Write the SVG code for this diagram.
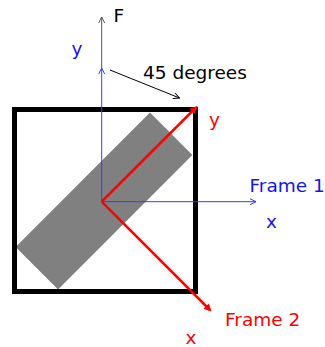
<svg xmlns="http://www.w3.org/2000/svg" width="325" height="347" viewBox="0 0 325 347">
<style>
text{font-family:"DejaVu Sans",sans-serif;font-size:18.5px}
.b{fill:#1414f0}.r{fill:#f00}.k{fill:#000}
</style>
<defs>
<marker id="openb" viewBox="0 0 8 8" refX="7" refY="4" markerWidth="8" markerHeight="8" markerUnits="userSpaceOnUse" orient="auto"><path d="M1,1 L7,4 L1,7" fill="none" stroke="#3a3aff" stroke-width="1"/></marker>
<marker id="openg" viewBox="0 0 8 8" refX="7" refY="4" markerWidth="8" markerHeight="8" markerUnits="userSpaceOnUse" orient="auto"><path d="M1,1 L7,4 L1,7" fill="none" stroke="#555" stroke-width="1"/></marker>
<marker id="openk" viewBox="0 0 8 8" refX="7" refY="4" markerWidth="8" markerHeight="8" markerUnits="userSpaceOnUse" orient="auto"><path d="M1,1 L7,4 L1,7" fill="none" stroke="#000" stroke-width="1"/></marker>
<marker id="red" viewBox="0 0 8 8" refX="6" refY="4" markerWidth="8" markerHeight="8" markerUnits="userSpaceOnUse" orient="auto"><path d="M1,1 L7,4 L1,7 Z" fill="#f00" stroke="#f00" stroke-width="1"/></marker>
</defs>
<g id="body">
<rect x="9" y="171" width="190" height="60" transform="rotate(-45 104 201)" fill="#808080"/>
</g>
<g id="box">
<rect x="14.5" y="109.5" width="181" height="182" fill="none" stroke="#000" stroke-width="5"/>
</g>
<g id="connectors">
<line x1="101.7" y1="68" x2="101.7" y2="17" stroke="#555" stroke-width="1" marker-end="url(#openg)"/>
<line x1="101.7" y1="201.7" x2="101.7" y2="68" stroke="#3a3aff" stroke-width="1" marker-end="url(#openb)"/>
<line x1="101.7" y1="201.7" x2="256" y2="201.7" stroke="#3a3aff" stroke-width="1" marker-end="url(#openb)"/>
<line x1="110" y1="70" x2="179.5" y2="98" stroke="#000" stroke-width="1" marker-end="url(#openk)"/>
<line x1="101.7" y1="201.7" x2="196" y2="107.5" stroke="#f00" stroke-width="2.5" marker-end="url(#red)"/>
<line x1="101.7" y1="201.7" x2="210" y2="310" stroke="#f00" stroke-width="2.5" marker-end="url(#red)"/>
</g>
<g id="labels">
<text class="k" x="113.5" y="22">F</text>
<text class="b" x="71.5" y="55">y</text>
<text class="k" x="143" y="78.5">45 degrees</text>
<text class="r" x="209" y="125.5">y</text>
<text class="b" x="249.5" y="192">Frame 1</text>
<text class="b" x="266" y="228">x</text>
<text class="r" x="225" y="325.5">Frame 2</text>
<text class="r" x="185.5" y="344">x</text>
</g>
</svg>
